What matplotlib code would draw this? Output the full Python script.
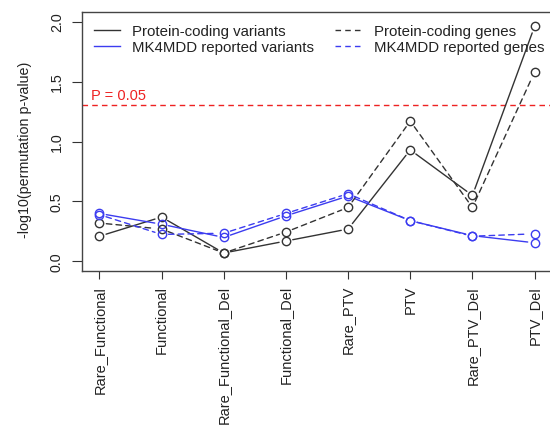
import matplotlib
matplotlib.use("Agg")
import matplotlib.pyplot as plt
from matplotlib.lines import Line2D

plt.rcParams['font.family'] = ['Liberation Sans', 'DejaVu Sans']

categories = ["Rare_Functional", "Functional", "Rare_Functional_Del", "Functional_Del",
              "Rare_PTV", "PTV", "Rare_PTV_Del", "PTV_Del"]
pc_variants = [0.21, 0.37, 0.07, 0.17, 0.27, 0.93, 0.55, 1.96]
pc_genes = [0.32, 0.27, 0.07, 0.245, 0.45, 1.17, 0.45, 1.58]
mk_variants = [0.40, 0.31, 0.20, 0.38, 0.545, 0.34, 0.215, 0.155]
mk_genes = [0.39, 0.225, 0.235, 0.40, 0.565, 0.34, 0.21, 0.23]
y_ticks = [0.0, 0.5, 1.0, 1.5, 2.0]
threshold = 1.301

series = [
    ("Protein-coding variants", pc_variants, "#333333", "-"),
    ("MK4MDD reported variants", mk_variants, "#3c3cf0", "-"),
    ("Protein-coding genes", pc_genes, "#333333", (0, (4, 3))),
    ("MK4MDD reported genes", mk_genes, "#3c3cf0", (0, (4, 3))),
]

fig = plt.figure(figsize=(5.5, 4.31), dpi=100)
ax = fig.add_axes([82/550, 159/431, 470/550, 259/431])

x = list(range(1, len(categories) + 1))
ax.set_xlim(1 - 0.28, len(categories) + 0.28)
ax.set_ylim(-0.08, 2.08)

for name, vals, col, ls in series:
    ax.plot(x, vals, linestyle="none", marker="o", markersize=6,
            markerfacecolor="none", markeredgecolor=col, markeredgewidth=1.0)
    for i in range(len(x) - 1):
        ax.annotate("", xy=(x[i + 1], vals[i + 1]), xytext=(x[i], vals[i]),
                    arrowprops=dict(arrowstyle="-", color=col, lw=1.0,
                                    linestyle=ls, shrinkA=5, shrinkB=5))

ax.axhline(threshold, color="#ee2222", lw=1.0, linestyle=(0, (4, 3)))
ax.text(0.86, threshold + 0.03, "P = 0.05", color="#ee2222", fontsize=10.5,
        ha="left", va="bottom")

ax.set_xticks(x)
ax.set_xticklabels(categories, rotation=90, fontsize=10.5, color="#222222")
ax.set_yticks(y_ticks)
ax.set_yticklabels([f"{v:.1f}" for v in y_ticks], rotation=90, fontsize=10.3,
                   color="#222222", va="center")
ax.tick_params(axis="y", length=7, pad=6, color="#333333")
ax.tick_params(axis="x", length=6, pad=4, color="#333333")
for s in ax.spines.values():
    s.set_color("#444444")
    s.set_linewidth(1.0)

fig.text(25/550, 1 - 150/431, "-log10(permutation p-value)", rotation=90,
         fontsize=10.3, color="#222222", ha="center", va="center")

handles = [Line2D([], [], color=c, lw=1.0, linestyle=ls) for _, _, c, ls in series]
labels = [n for n, _, _, _ in series]
ax.legend(handles, labels, ncol=2, frameon=False, loc="upper left",
          bbox_to_anchor=(12/470, 1 - 12/259), borderpad=0, borderaxespad=0,
          handlelength=1.7, handletextpad=0.85, columnspacing=1.4,
          labelspacing=0.15, fontsize=10.8, labelcolor="#222222")

fig.savefig("out.png", dpi=100)
